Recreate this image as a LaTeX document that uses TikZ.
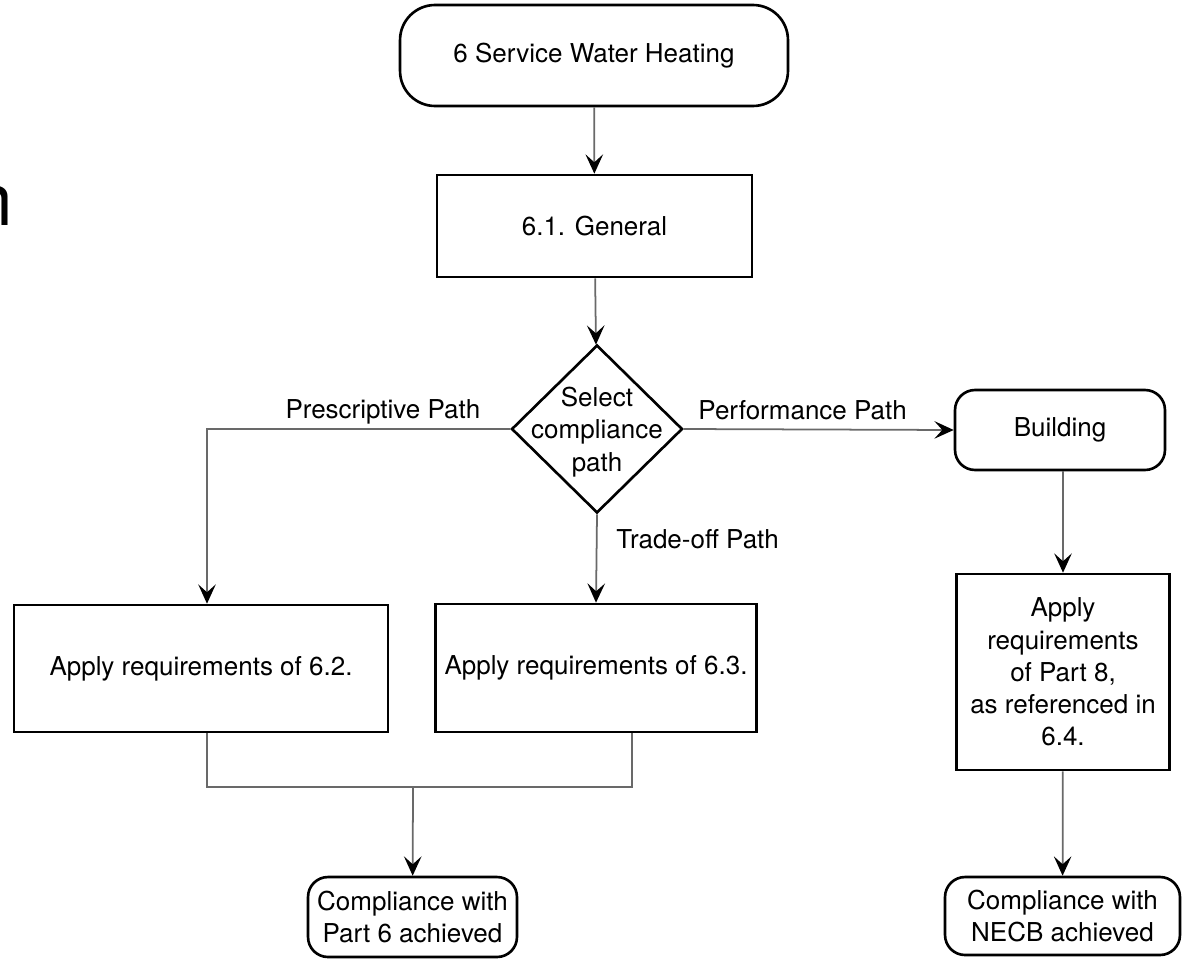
\documentclass[tikz,border=0pt]{standalone}
\usepackage{fontspec}
\setmainfont{TeX Gyre Heros}
\usetikzlibrary{arrows.meta,positioning,shapes.geometric,calc}
\definecolor{linkgray}{RGB}{105,105,105}

\begin{document}
\begin{tikzpicture}[x=0.02cm,y=-0.02cm,>={Stealth[length=11pt,width=10pt,inset=4.5pt,color=black]},
 b/.style={draw,line width=1.5pt,align=center,font=\fontsize{14.8pt}{18.3pt}\selectfont,inner sep=0pt},
 r/.style={b,rounded corners=0.4cm},
 a/.style={->,line width=1pt,draw=linkgray},l/.style={line width=1pt,draw=linkgray},
 t/.style={font=\fontsize{14.8pt}{18.3pt}\selectfont,inner sep=0pt}]
\useasboundingbox (0,0) rectangle (1182,960);
\node[anchor=base west,inner sep=0pt,font=\fontsize{41.5pt}{41.5pt}\selectfont] (frag) at (-27.7,225) {n};
\node[r,rounded corners=0.7cm,minimum width=7.76cm,minimum height=2.02cm] (swh) at (594,55.5) {6 Service Water Heating};
\node[b,minimum width=6.3cm,minimum height=2.04cm] (gen) at (594.5,226) {6.1. General};
\node[b,diamond,minimum width=3.42cm,minimum height=3.36cm,
 label={[t,align=center,yshift=-1.7pt]center:Select\\compliance\\path}] (sel) at (597,429) {};
\node[b,minimum width=7.48cm,minimum height=2.54cm] (p62) at (201,668.5) {Apply requirements of 6.2.};
\node[b,minimum width=6.42cm,minimum height=2.56cm] (p63) at (596,668) {Apply requirements of 6.3.};
\node[r,minimum width=4.2cm,minimum height=1.6cm] (bld) at (1060,430) {Building};
\node[b,minimum width=4.26cm,minimum height=3.92cm] (p8) at (1063,672) {Apply\\requirements\\of Part 8,\\as referenced in\\6.4.};
\node[r,minimum width=4.18cm,minimum height=1.6cm] (c6) at (412.5,917) {Compliance with\\Part 6 achieved};
\node[r,minimum width=4.7cm,minimum height=1.56cm] (necb) at (1062.5,916) {Compliance with\\NECB achieved};
\coordinate (join) at (413,787);
\draw[a] (swh)--(gen);\draw[a] (gen)--(sel);
\draw[a] (sel.west) -| node[t,pos=0.21,anchor=base,yshift=5.7pt] {Prescriptive Path} ([xshift=0.12cm]p62.north);
\draw[a] (sel.east) -- node[t,pos=0.44,anchor=base,yshift=5.7pt] {Performance Path} (bld.west);
\draw[a] (sel.south) -- node[t,pos=0.385,anchor=base west,xshift=10.8pt] {Trade-off Path} (p63.north);
\draw[l] ([xshift=0.12cm]p62.south) |- (join) -| ([xshift=0.72cm]p63.south);
\draw[a] (join)--(c6);
\draw[a] (bld.south -| p8)--(p8);\draw[a] (p8)--(necb);
\end{tikzpicture}
\end{document}
